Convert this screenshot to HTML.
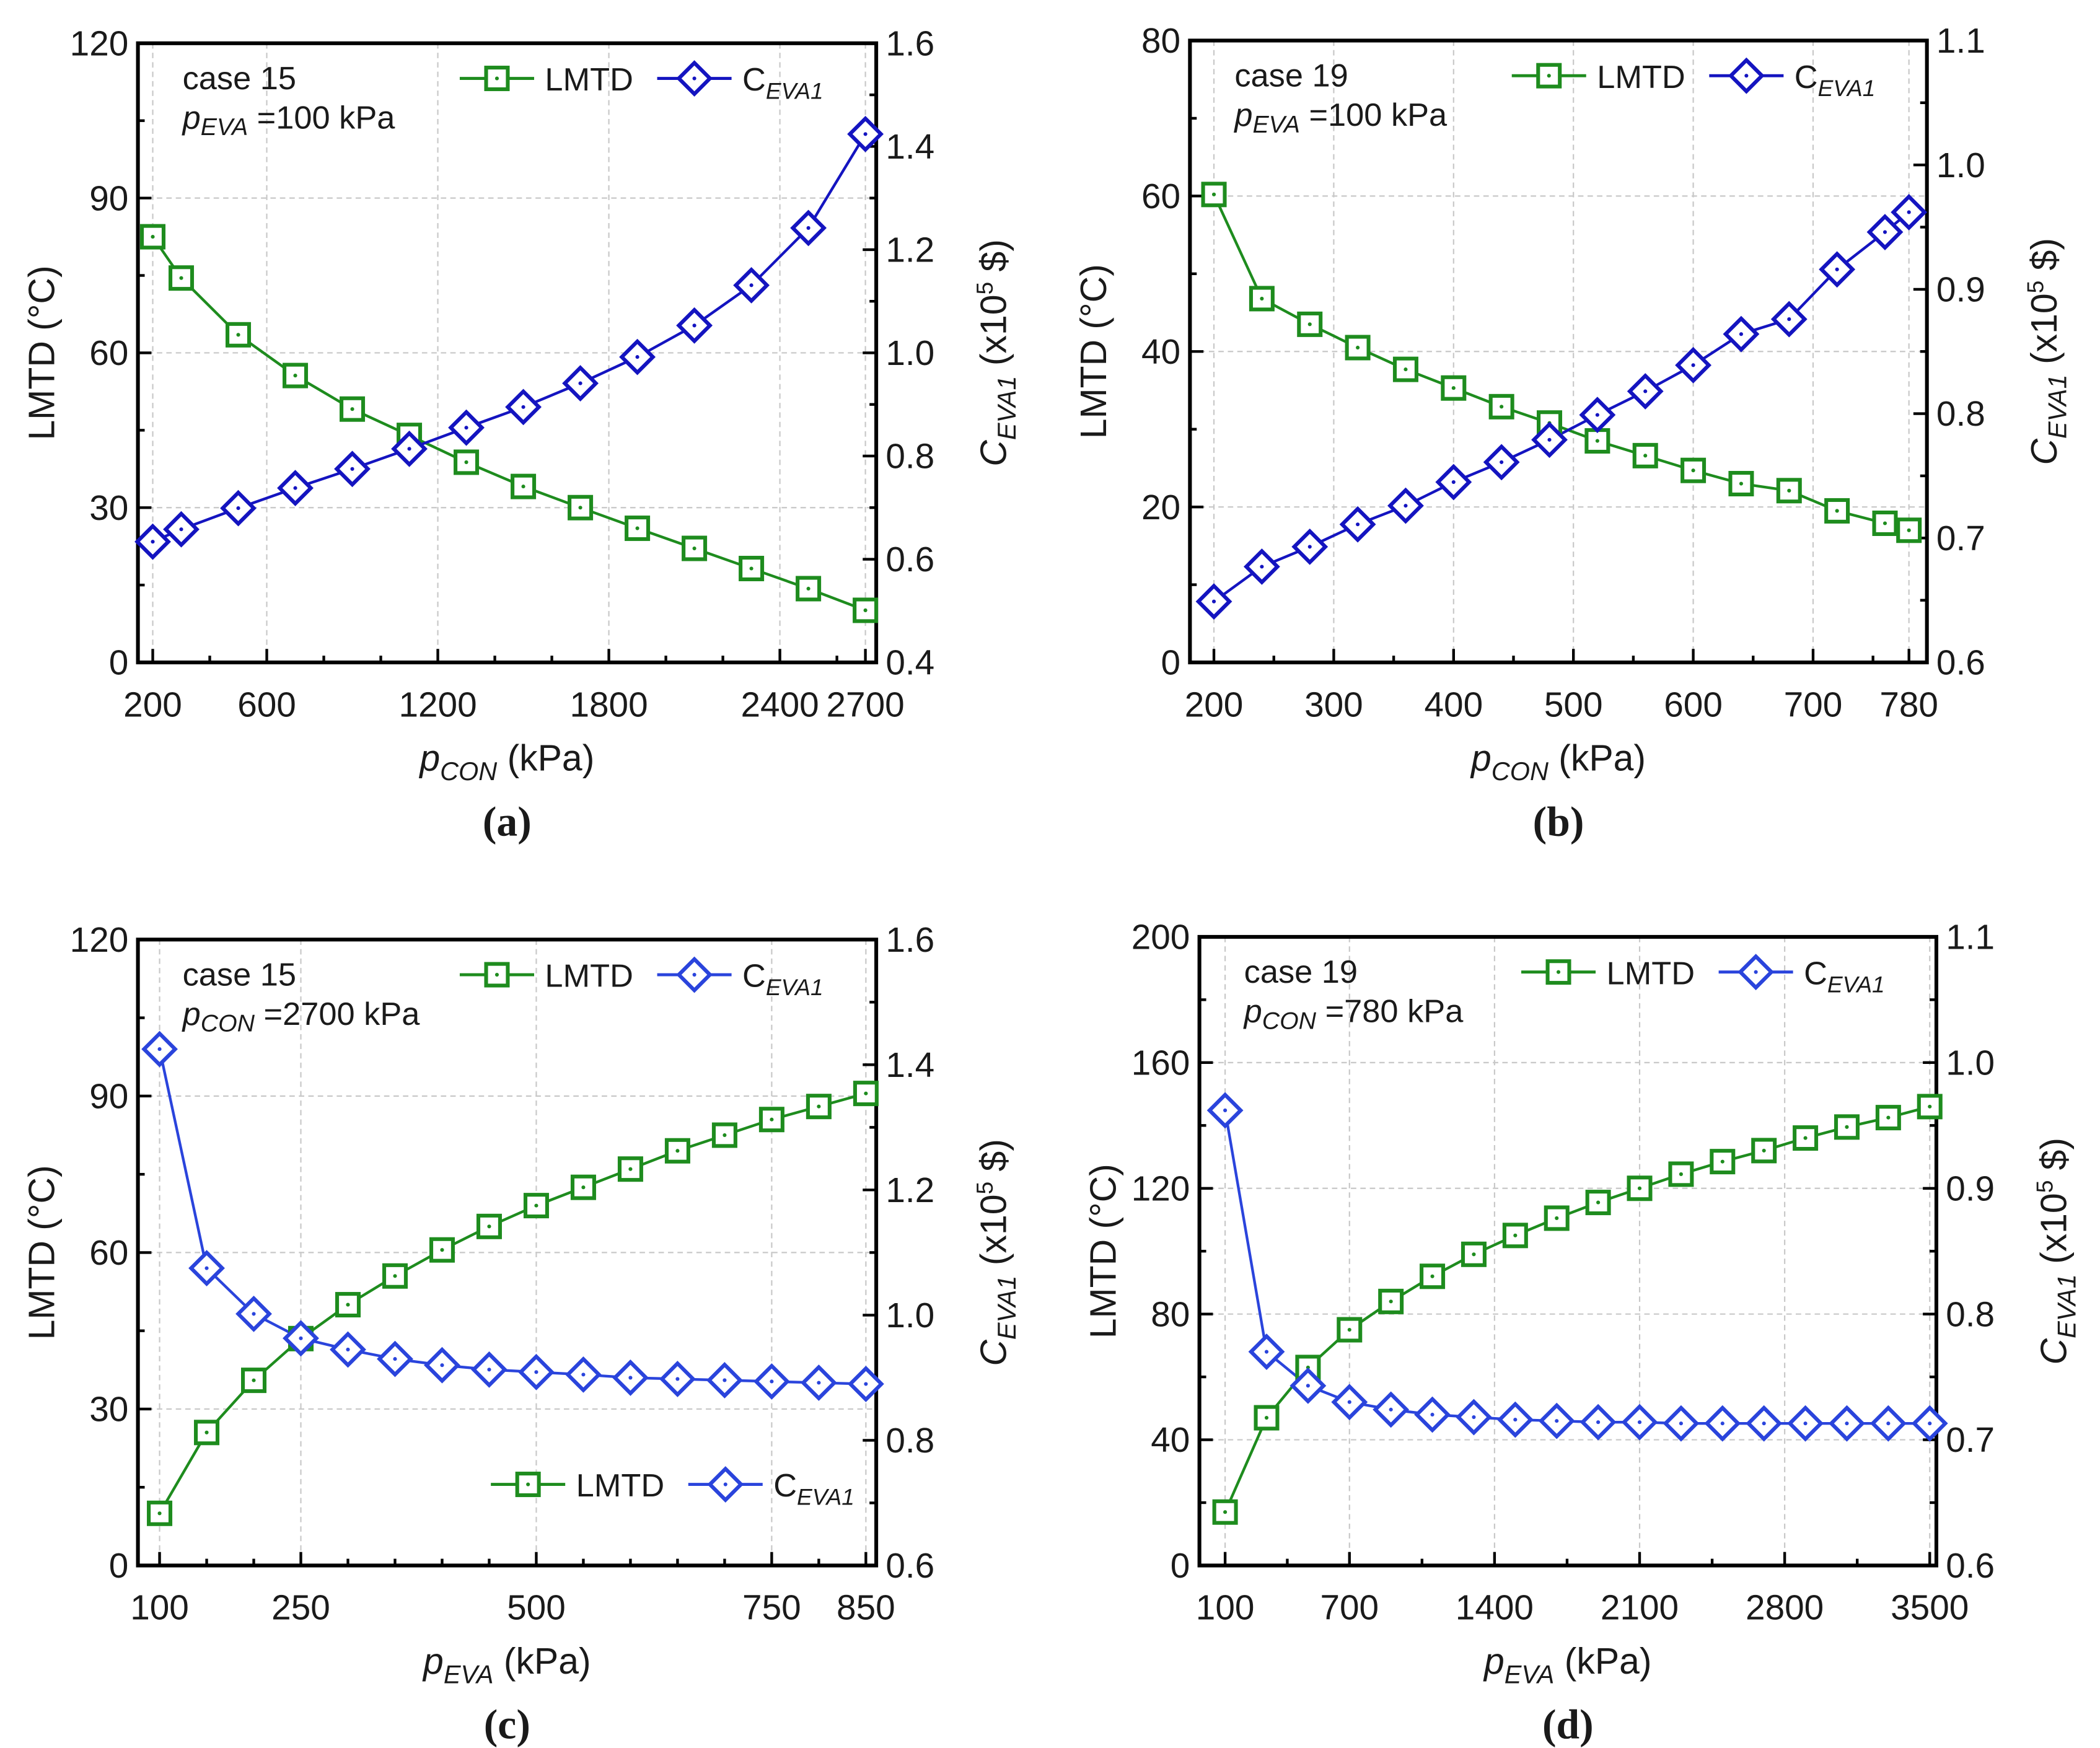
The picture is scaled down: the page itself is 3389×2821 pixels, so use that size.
<!DOCTYPE html>
<html><head><meta charset="utf-8"><style>
html,body{margin:0;padding:0;background:#fff}
svg{display:block;font-family:"Liberation Sans",Arial,sans-serif}
</style></head><body>
<svg id="fig" width="3389" height="2821" viewBox="0 0 1553 1293" preserveAspectRatio="none" xmlns="http://www.w3.org/2000/svg"></svg>
<script>
// ---- data ----
const aX=[200,300,500,700,900,1100,1300,1500,1700,1900,2100,2300,2500,2700];
const aLMTD=[82.5,74.5,63.5,55.6,49.1,44,38.8,34.1,30,26,22.1,18.2,14.3,10.1];
const aC=[0.634,0.658,0.699,0.738,0.775,0.814,0.855,0.895,0.941,0.992,1.053,1.131,1.242,1.424];
const aXTicks=[200,600,1200,1800,2400,2700];
const bX=[200,240,280,320,360,400,440,480,520,560,600,640,680,720,760,780];
const bLMTD=[60.2,46.8,43.5,40.5,37.7,35.3,32.9,30.8,28.5,26.6,24.7,23,22.1,19.5,17.9,17.0];
const bC=[0.649,0.677,0.693,0.711,0.726,0.745,0.761,0.779,0.799,0.818,0.839,0.864,0.876,0.916,0.946,0.962];
const bXTicks=[200,300,400,500,600,700,780];
const cX=[100,150,200,250,300,350,400,450,500,550,600,650,700,750,800,850];
const cLMTD=[10,25.5,35.5,43.5,50,55.5,60.5,65,69,72.5,76,79.5,82.5,85.5,88,90.5];
const cC=[1.425,1.075,1.002,0.963,0.945,0.930,0.920,0.913,0.909,0.905,0.900,0.898,0.896,0.894,0.892,0.890];
const cXTicks=[100,250,500,750,850];
const dX=[100,300,500,700,900,1100,1300,1500,1700,1900,2100,2300,2500,2700,2900,3100,3300,3500];
const dLMTD=[17,47,63,75,84,92,99,105,110.5,115.5,120,124.5,128.5,132,136,139.5,142.5,146];
const dC=[0.962,0.770,0.743,0.730,0.724,0.720,0.718,0.716,0.715,0.714,0.714,0.713,0.713,0.713,0.713,0.713,0.713,0.713];
const dXTicks=[100,700,1400,2100,2800,3500];

const NS="http://www.w3.org/2000/svg";
const svg=document.getElementById('fig');
function mk(tag,attrs,parent,text){const e=document.createElementNS(NS,tag);for(const k in attrs)e.setAttribute(k,attrs[k]);if(text!==undefined)e.textContent=text;(parent||svg).appendChild(e);return e;}
const GREEN="#1e8c1e";
const TXT="#1a1a1a";

function panel(p){
  const g=mk('g',{fill:TXT});
  
  
  const sx=v=>p.L+(v-p.x0)/(p.x1-p.x0)*(p.R-p.L);
  const syL=v=>p.B-(v-p.y0)/(p.y1-p.y0)*(p.B-p.T);
  const syR=v=>p.B-(v-p.r0)/(p.r1-p.r0)*(p.B-p.T);
  p.xt.forEach(v=>{const l=mk('line',{x1:sx(v),x2:sx(v),y1:p.T,y2:p.B,stroke:'#c8c8c8','stroke-width':1,'stroke-dasharray':'4,3'},g);});
  for(let v=p.y0+p.ys;v<p.y1-1e-9;v+=p.ys){const l=mk('line',{x1:p.L,x2:p.R,y1:syL(v),y2:syL(v),stroke:'#c8c8c8','stroke-width':1,'stroke-dasharray':'4,3'},g);}
  const tk=(x1,y1,x2,y2)=>mk('line',{x1,y1,x2,y2,stroke:'#000','stroke-width':2},g);
  p.xt.forEach(v=>{tk(sx(v),p.B,sx(v),p.B-10);const t=mk('text',{x:sx(v),y:p.B+40,'font-size':26,'text-anchor':'middle'},g,String(v));});
  p.xm.forEach(v=>tk(sx(v),p.B,sx(v),p.B-5));
  for(let v=p.y0;v<=p.y1+1e-9;v+=p.ys/2){const maj=Math.abs(((v-p.y0)/p.ys)-Math.round((v-p.y0)/p.ys))<1e-6;tk(p.L,syL(v),p.L+(maj?10:5),syL(v));
    if(maj){const t=mk('text',{x:p.L-7,y:syL(v)+9,'font-size':26,'text-anchor':'end'},g,String(Math.round(v)));}}
  for(let i=0;i<=Math.round((p.r1-p.r0)/p.rs*2);i++){const v=p.r0+i*p.rs/2;const maj=i%2===0;tk(p.R,syR(v),p.R-(maj?10:5),syR(v));
    if(maj){const t=mk('text',{x:p.R+7,y:syR(v)+9,'font-size':26},g,v.toFixed(1));}}
  const fr=mk('rect',{x:p.L,y:p.T,width:p.R-p.L,height:p.B-p.T,fill:'none',stroke:'#000','stroke-width':2.8},g);
  
  const line=(xs,ys,sy,col)=>mk('polyline',{points:xs.map((x,i)=>sx(x)+','+sy(ys[i])).join(' '),fill:'none',stroke:col,'stroke-width':2},g);
  const l1=line(p.x,p.lm,syL,GREEN);
  const l2=line(p.x,p.c,syR,p.blue);
  p.x.forEach((x,i)=>{
    const cx=sx(x),cy=syL(p.lm[i]);
    const m=mk('rect',{x:cx-8,y:cy-8,width:16,height:16,fill:'#fff',stroke:GREEN,'stroke-width':2.8},g);
    
    mk('circle',{cx,cy,r:1.4,fill:GREEN},g);
  });
  p.x.forEach((x,i)=>{
    const cx=sx(x),cy=syR(p.c[i]);
    const m=mk('polygon',{points:`${cx},${cy-11.5} ${cx+11.5},${cy} ${cx},${cy+11.5} ${cx-11.5},${cy}`,fill:'#fff',stroke:p.blue,'stroke-width':2.8},g);
    
    mk('circle',{cx,cy,r:1.4,fill:p.blue},g);
  });
  const a1=mk('text',{x:p.L+33,y:p.T+34,'font-size':24},g,p.caseT);
  const a2=mk('text',{x:p.L+33,y:p.T+63,'font-size':24},g);
  mk('tspan',{'font-style':'italic'},a2,'p');mk('tspan',{'font-style':'italic','font-size':18,dy:5},a2,p.fixSub);mk('tspan',{dy:-5},a2,' =' +p.fixVal+' kPa');
  const legend=(lx,ly)=>{
    const lg=mk('g',{},g);
    mk('line',{x1:lx,x2:lx+55,y1:ly,y2:ly,stroke:GREEN,'stroke-width':2.2},lg);
    mk('rect',{x:lx+19.5,y:ly-8,width:16,height:16,fill:'#fff',stroke:GREEN,'stroke-width':2.8},lg);
    mk('circle',{cx:lx+27.5,cy:ly,r:1.4,fill:GREEN},lg);
    mk('text',{x:lx+63,y:ly+9,'font-size':24},lg,'LMTD');
    const bx=lx+146;
    mk('line',{x1:bx,x2:bx+55,y1:ly,y2:ly,stroke:p.blue,'stroke-width':2.2},lg);
    mk('polygon',{points:`${bx+27.5},${ly-11.5} ${bx+39},${ly} ${bx+27.5},${ly+11.5} ${bx+16},${ly}`,fill:'#fff',stroke:p.blue,'stroke-width':2.8},lg);
    mk('circle',{cx:bx+27.5,cy:ly,r:1.4,fill:p.blue},lg);
    const t=mk('text',{x:bx+63,y:ly+9,'font-size':24},lg);mk('tspan',{},t,'C');mk('tspan',{'font-style':'italic','font-size':17,dy:6},t,'EVA1');
  };
  legend(p.L+238,p.T+26);
  if(p.legend2)legend(p.legend2[0],p.legend2[1]);
  const cxm=(p.L+p.R)/2, cym=(p.T+p.B)/2;
  const yt=mk('text',{x:0,y:0,'font-size':27,'text-anchor':'middle',transform:`translate(${p.L-62},${cym}) rotate(-90)`},g,'LMTD (°C)');
  
  const rt=mk('text',{x:0,y:0,'font-size':27,'text-anchor':'middle',transform:`translate(${p.R+96},${cym}) rotate(-90)`},g);
  
  mk('tspan',{'font-style':'italic'},rt,'C');mk('tspan',{'font-style':'italic','font-size':19,dy:7},rt,'EVA1');mk('tspan',{dy:-7},rt,' (x10');mk('tspan',{'font-size':17,dy:-10},rt,'5');mk('tspan',{dy:10},rt,' $)');
  const xt=mk('text',{x:cxm,y:p.B+80,'font-size':27,'text-anchor':'middle'},g);
  
  mk('tspan',{'font-style':'italic'},xt,'p');mk('tspan',{'font-style':'italic','font-size':19,dy:7},xt,p.xSub);mk('tspan',{dy:-7},xt,' (kPa)');
  const pl=mk('text',{x:cxm,y:p.B+128,'font-size':31,'font-weight':'bold','text-anchor':'middle','font-family':'"Liberation Serif",serif'},g,'('+p.id+')');
  
}
panel({id:'a',L:102,R:648,T:32,B:490,x0:148,x1:2738,xt:aXTicks,xm:[400,800,1000,1400,1600,2000,2200,2600],y0:0,y1:120,ys:30,r0:0.4,r1:1.6,rs:0.2,x:aX,lm:aLMTD,c:aC,blue:'#1414c0',caseT:'case 15',fixSub:'EVA',fixVal:'100',xSub:'CON'});
panel({id:'b',L:880,R:1425,T:30,B:490,x0:180,x1:795,xt:bXTicks,xm:[250,350,450,550,650,750],y0:0,y1:80,ys:20,r0:0.6,r1:1.1,rs:0.1,x:bX,lm:bLMTD,c:bC,blue:'#1414c0',caseT:'case 19',fixSub:'EVA',fixVal:'100',xSub:'CON'});
panel({id:'c',L:102,R:648,T:695,B:1158,x0:77,x1:861,xt:cXTicks,xm:[150,200,300,350,400,450,550,600,650,700,800],y0:0,y1:120,ys:30,r0:0.6,r1:1.6,rs:0.2,x:cX,lm:cLMTD,c:cC,blue:'#2a44dc',caseT:'case 15',fixSub:'CON',fixVal:'2700',xSub:'EVA',legend2:[363,1098]});
panel({id:'d',L:887,R:1432,T:693,B:1158,x0:-24,x1:3532,xt:dXTicks,xm:[400,1050,1750,2450,3150],y0:0,y1:200,ys:40,r0:0.6,r1:1.1,rs:0.1,x:dX,lm:dLMTD,c:dC,blue:'#2a44dc',caseT:'case 19',fixSub:'CON',fixVal:'780',xSub:'EVA'});
</script>
</body></html>
